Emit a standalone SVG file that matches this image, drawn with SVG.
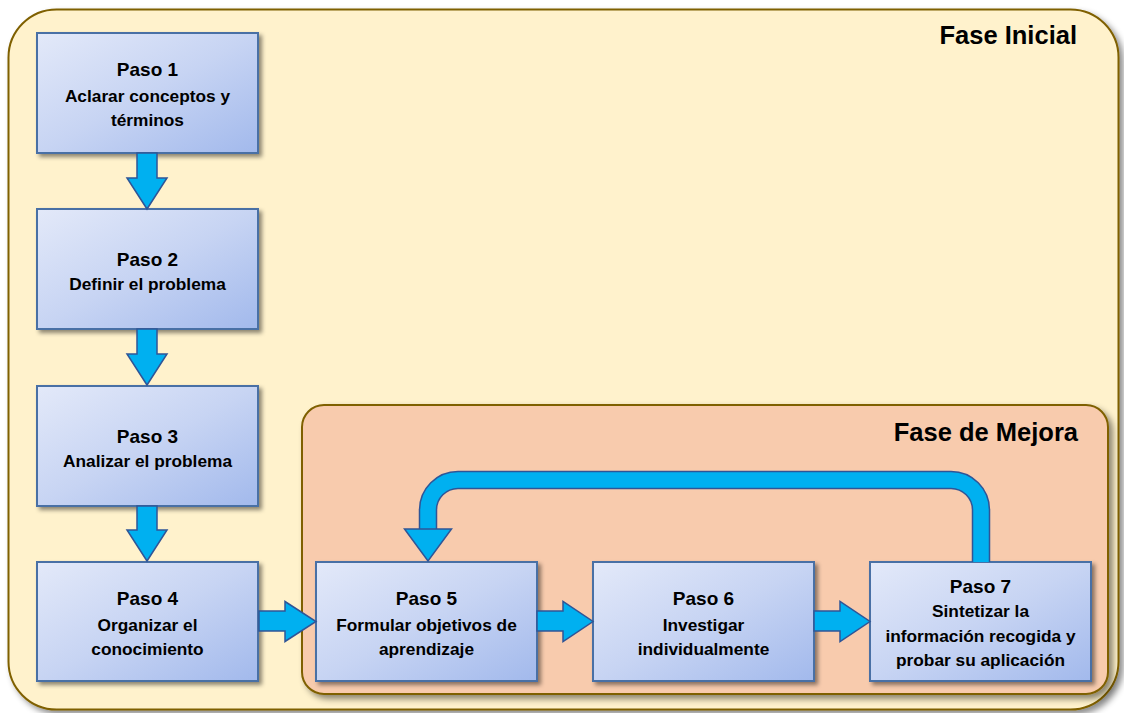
<svg xmlns="http://www.w3.org/2000/svg" width="1124" height="713" viewBox="0 0 1124 713">
<defs>
  <linearGradient id="boxGrad" x1="0" y1="0" x2="1" y2="1">
    <stop offset="0" stop-color="#E3E9F9"/>
    <stop offset="0.5" stop-color="#C7D4F3"/>
    <stop offset="1" stop-color="#A2B9EC"/>
  </linearGradient>
  <filter id="shadow" x="-10%" y="-10%" width="130%" height="130%">
    <feDropShadow dx="3" dy="3" stdDeviation="2" flood-color="#000" flood-opacity="0.45"/>
  </filter>
  <filter id="regShadow" x="-5%" y="-5%" width="110%" height="110%">
    <feDropShadow dx="4" dy="4" stdDeviation="3" flood-color="#000" flood-opacity="0.45"/>
  </filter>
</defs>
<style>
  .box { fill: url(#boxGrad); stroke: #4A6FA5; stroke-width: 2; filter: url(#shadow); }
  .title { font-family: "Liberation Sans", Arial, sans-serif; font-weight: bold; font-size: 19px; fill: #000; text-anchor: middle; }
  .body { font-family: "Liberation Sans", Arial, sans-serif; font-weight: bold; font-size: 17.3px; fill: #000; text-anchor: middle; }
  .phase { font-family: "Liberation Sans", Arial, sans-serif; font-weight: bold; font-size: 25.5px; fill: #000; text-anchor: end; }
  .arrow { fill: #00B0F0; stroke: #2F5597; stroke-width: 1.5; stroke-linejoin: miter; }
</style>

<g id="fase-inicial">
  <rect x="8.5" y="9.5" width="1110" height="700" rx="48" ry="48" fill="#FFF2CC" stroke="#7F6000" stroke-width="2" filter="url(#regShadow)"/>
  <text class="phase" x="1077" y="44">Fase Inicial</text>
</g>

<g id="fase-mejora">
  <rect x="302" y="405" width="806" height="289" rx="22" ry="22" fill="#F8CBAD" stroke="#7F6000" stroke-width="2" filter="url(#regShadow)"/>
  <text class="phase" x="1078" y="441">Fase de Mejora</text>
</g>

<g id="paso1">
  <rect class="box" x="37" y="33" width="221" height="120"/>
  <text class="title" x="147.5" y="76">Paso 1</text>
  <text class="body" x="147.5" y="102">Aclarar conceptos y</text>
  <text class="body" x="147.5" y="126">términos</text>
</g>

<g id="paso2">
  <rect class="box" x="37" y="209" width="221" height="120"/>
  <text class="title" x="147.5" y="266">Paso 2</text>
  <text class="body" x="147.5" y="290">Definir el problema</text>
</g>

<g id="paso3">
  <rect class="box" x="37" y="386" width="221" height="120"/>
  <text class="title" x="147.5" y="443">Paso 3</text>
  <text class="body" x="147.5" y="467">Analizar el problema</text>
</g>

<g id="paso4">
  <rect class="box" x="37" y="562" width="221" height="119"/>
  <text class="title" x="147.5" y="605">Paso 4</text>
  <text class="body" x="147.5" y="631">Organizar el</text>
  <text class="body" x="147.5" y="655">conocimiento</text>
</g>

<g id="paso5">
  <rect class="box" x="316" y="562" width="221" height="119"/>
  <text class="title" x="426.5" y="605">Paso 5</text>
  <text class="body" x="426.5" y="631">Formular objetivos de</text>
  <text class="body" x="426.5" y="655">aprendizaje</text>
</g>

<g id="paso6">
  <rect class="box" x="593" y="562" width="221" height="119"/>
  <text class="title" x="703.5" y="605">Paso 6</text>
  <text class="body" x="703.5" y="631">Investigar</text>
  <text class="body" x="703.5" y="655">individualmente</text>
</g>

<g id="paso7">
  <rect class="box" x="870" y="562" width="221" height="119"/>
  <text class="title" x="980.5" y="593">Paso 7</text>
  <text class="body" x="980.5" y="617">Sintetizar la</text>
  <text class="body" x="980.5" y="642">información recogida y</text>
  <text class="body" x="980.5" y="666">probar su aplicación</text>
</g>

<g id="connectors">
  <polygon class="arrow" points="137,153 157,153 157,178 167,178 147,209 127,178 137,178"/>
  <polygon class="arrow" points="137,329 157,329 157,354 167,354 147,385 127,354 137,354"/>
  <polygon class="arrow" points="137,506 157,506 157,530 167,530 147,561 127,530 137,530"/>
  <polygon class="arrow" points="259,611 285,611 285,601.5 316,621.5 285,641.5 285,631 259,631"/>
  <polygon class="arrow" points="537,611 563,611 563,601.5 593,621.5 563,641.5 563,631 537,631"/>
  <polygon class="arrow" points="814,611 840,611 840,601.5 870,621.5 840,641.5 840,631 814,631"/>
  <path d="M981,562 V510 A30,30 0 0 0 951,480 H458 A30,30 0 0 0 428,510 V532" fill="none" stroke="#2F5597" stroke-width="18.5"/>
  <path d="M981,562 V510 A30,30 0 0 0 951,480 H458 A30,30 0 0 0 428,510 V532" fill="none" stroke="#00B0F0" stroke-width="15.5"/>
  <polygon class="arrow" points="404.5,529 451.5,529 428,561"/>
</g>
</svg>
